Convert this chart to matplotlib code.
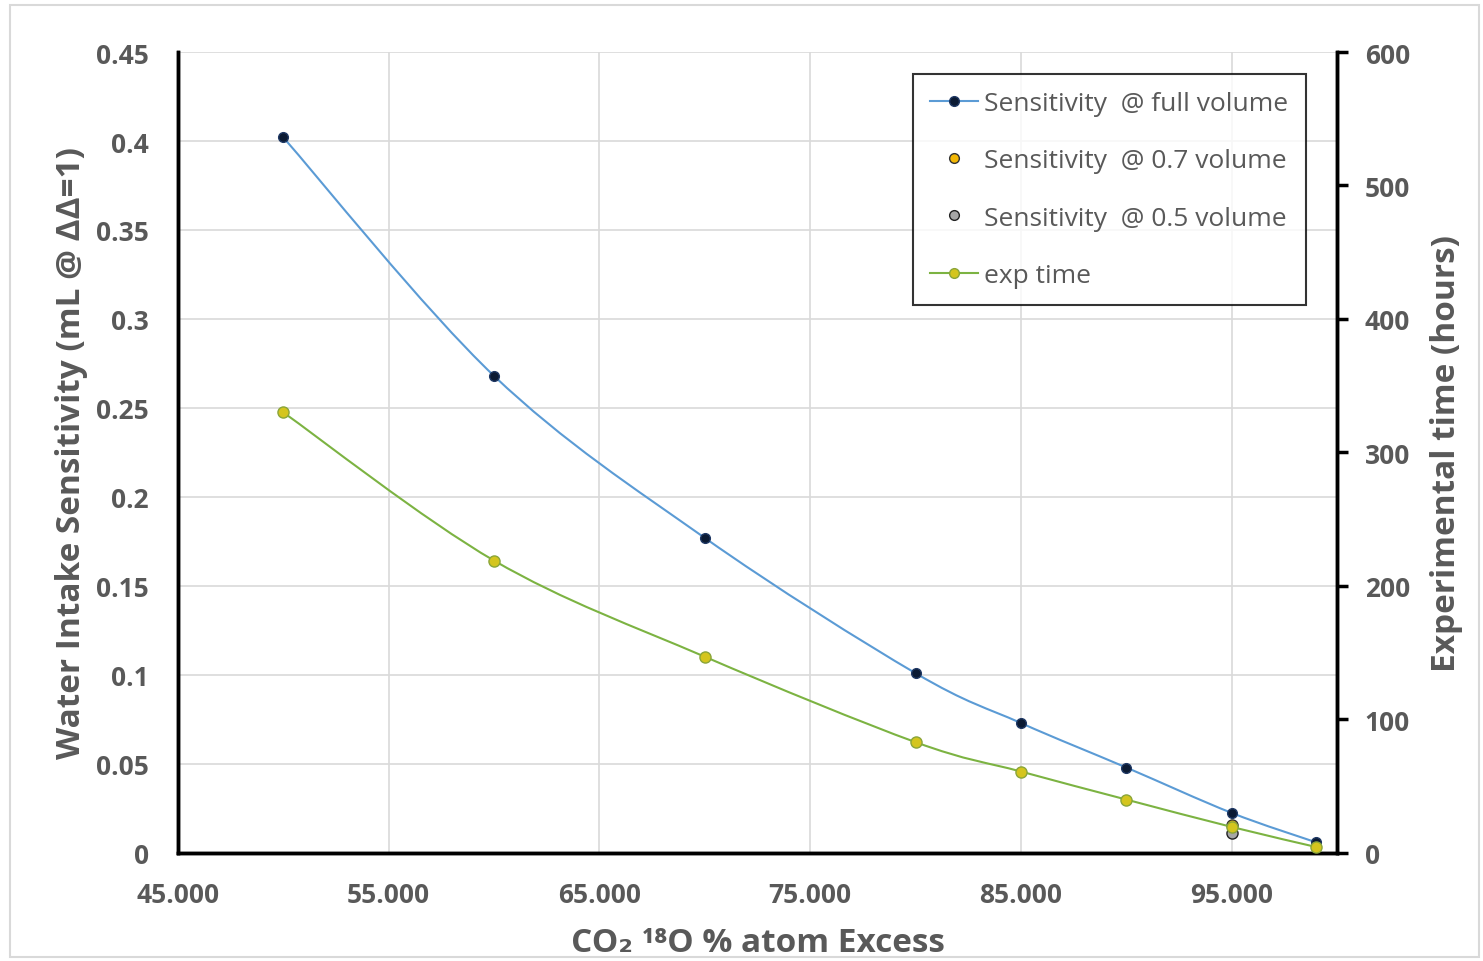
import numpy as np
import matplotlib.pyplot as plt
from matplotlib.path import Path
from matplotlib.patches import PathPatch, Rectangle
from matplotlib.lines import Line2D

plt.rcParams['font.family'] = ['Open Sans', 'DejaVu Sans']

# data
excess = [50, 60, 70, 80, 85, 90, 95, 99]
sens_full = [0.402, 0.268, 0.177, 0.101, 0.073, 0.048, 0.0225, 0.006]
exp_time = [330, 219, 147, 83, 61, 40, 19.5, 4.5]
excess_07 = [95]
sens_07 = [0.0155]
excess_05 = [95]
sens_05 = [0.0113]

GRAY = '#595959'
BLUE = '#5B9BD5'
GREEN = '#7CB342'


def smooth_path(xs, ys):
    # Catmull-Rom through the points, drawn as cubic bezier segments
    p = np.column_stack((xs, ys)).astype(float)
    n = len(p)
    verts = [p[0]]
    codes = [Path.MOVETO]
    for i in range(n - 1):
        p0 = p[i - 1] if i > 0 else p[i]
        p3 = p[i + 2] if i + 2 < n else p[i + 1]
        c1 = p[i] + (p[i + 1] - p0) / 6
        c2 = p[i + 1] - (p3 - p[i]) / 6
        verts += [c1, c2, p[i + 1]]
        codes += [Path.CURVE4] * 3
    return Path(verts, codes)


fig = plt.figure(figsize=(14.83, 9.62), dpi=100)
fig.patches.append(Rectangle((0.007, 0.004), 0.99, 0.99, transform=fig.transFigure,
                             fill=False, edgecolor='#D9D9D9', linewidth=1.5))
ax = fig.add_axes([0.120, 0.1123, 0.7816, 0.8326])
ax2 = ax.twinx()

ax.set_xlim(45, 100)
ax.set_ylim(0, 0.45)
ax2.set_ylim(0, 600)

ax.set_xticks(np.arange(45, 100, 10))
ax.set_xticklabels(['%.3f' % v for v in np.arange(45, 100, 10)])
ax.set_yticks(np.arange(0, 0.451, 0.05))
ax.set_yticklabels(['0', '0.05', '0.1', '0.15', '0.2', '0.25', '0.3', '0.35', '0.4', '0.45'])
ax2.set_yticks(np.arange(0, 601, 100))

ax.grid(True, color='#D9D9D9', linewidth=1.2)
ax.set_axisbelow(True)

for a in (ax, ax2):
    a.spines['top'].set_visible(False)
    for s in ('left', 'right', 'bottom'):
        a.spines[s].set_linewidth(2.5)
        a.spines[s].set_color('black')

ax.tick_params(axis='x', length=0, labelsize=19, labelcolor=GRAY, pad=20)
ax.tick_params(axis='y', length=0, labelsize=19, labelcolor=GRAY, pad=21)
ax2.tick_params(axis='y', length=8, width=2.5, direction='out', labelsize=19,
                labelcolor=GRAY, pad=12)
for lbl in ax.get_xticklabels() + ax.get_yticklabels() + ax2.get_yticklabels():
    lbl.set_fontweight('bold')

ax.add_patch(PathPatch(smooth_path(excess, sens_full), fill=False,
                       edgecolor=BLUE, linewidth=1.5, zorder=3))
ax.plot(excess, sens_full, linestyle='none', marker='o', markersize=7,
        markerfacecolor='#0B1A33', markeredgecolor='#1F3864', zorder=4)
ax.plot(excess_07, sens_07, linestyle='none', marker='o', markersize=8,
        markerfacecolor='#F2B705', markeredgecolor='#333333', zorder=4)
ax.plot(excess_05, sens_05, linestyle='none', marker='o', markersize=8,
        markerfacecolor='#A6A6A6', markeredgecolor='#222222', zorder=4)

ax2.add_patch(PathPatch(smooth_path(excess, exp_time), fill=False,
                        edgecolor=GREEN, linewidth=1.5, zorder=3))
ax2.plot(excess, exp_time, linestyle='none', marker='o', markersize=8,
         markerfacecolor='#D4C51E', markeredgecolor='#8AA53A', zorder=5)

ax.set_xlabel('CO\u2082 \u00b9\u2078O % atom Excess', fontsize=24, fontweight='bold',
              color=GRAY, labelpad=13, family=['Open Sans', 'DejaVu Sans'])
ax.set_ylabel('Water Intake Sensitivity (mL @ \u0394\u0394=1)', fontsize=24,
              fontweight='bold', color=GRAY, labelpad=6)
ax2.set_ylabel('Experimental time (hours)', fontsize=24, fontweight='bold',
               color=GRAY, labelpad=14)

handles = [
    Line2D([], [], color=BLUE, marker='o', markersize=7, markerfacecolor='#0B1A33',
           markeredgecolor='#1F3864', linewidth=1.5),
    Line2D([], [], linestyle='none', marker='o', markersize=7,
           markerfacecolor='#F2B705', markeredgecolor='#333333'),
    Line2D([], [], linestyle='none', marker='o', markersize=7,
           markerfacecolor='#A6A6A6', markeredgecolor='#222222'),
    Line2D([], [], color=GREEN, marker='o', markersize=7, markerfacecolor='#D4C51E',
           markeredgecolor='#8AA53A', linewidth=1.5),
]
labels = ['Sensitivity  @ full volume', 'Sensitivity  @ 0.7 volume',
          'Sensitivity  @ 0.5 volume', 'exp time']
leg = ax2.legend(handles, labels, loc='upper right', bbox_to_anchor=(0.973, 0.9725),
                 fontsize=19, labelcolor=GRAY, frameon=True, fancybox=False,
                 edgecolor='black', handlelength=1.8, handletextpad=0.25,
                 labelspacing=1.22, borderpad=0.65, borderaxespad=0)
leg.get_frame().set_linewidth(1.5)

fig.savefig('out.png', dpi=100)
